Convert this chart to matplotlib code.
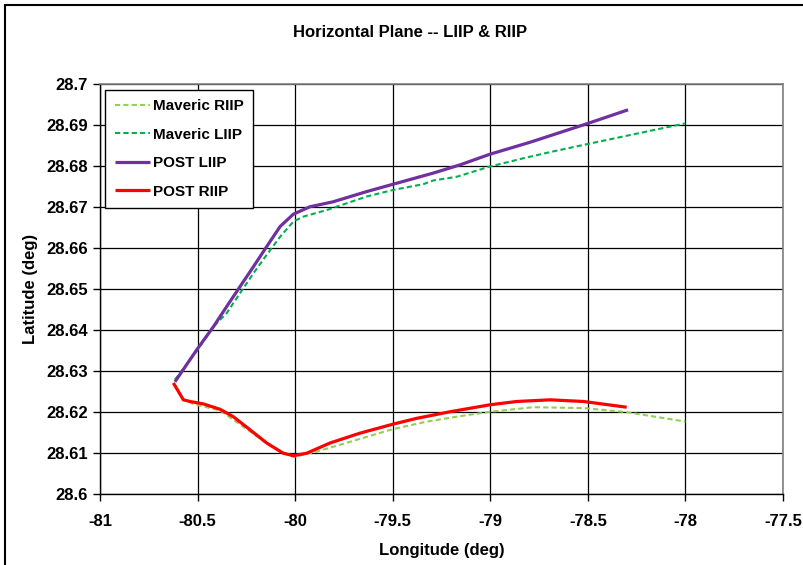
import matplotlib
matplotlib.use("Agg")
import matplotlib.pyplot as plt
from matplotlib.patches import Rectangle

plt.rcParams['font.family'] = ['Liberation Sans', 'DejaVu Sans']
plt.rcParams['font.weight'] = 'bold'

# Trajectory samples (longitude, latitude in degrees)
mav_riip_lon = [-80.624, -80.573, -80.522, -80.385, -80.231, -80.128, -80.009, -79.889,
                -79.718, -79.497, -79.325, -79.172, -79.001, -78.780, -78.523, -78.301, -78.0]
mav_riip_lat = [28.6271, 28.6232, 28.6220, 28.6204, 28.6153, 28.6118, 28.6091, 28.6104,
                28.6128, 28.6159, 28.6177, 28.6189, 28.6201, 28.6212, 28.6210, 28.6200, 28.6177]

mav_liip_lon = [-80.616, -80.504, -80.419, -80.351, -80.282, -80.214, -80.146, -80.077,
                -80.009, -79.958, -79.838, -79.633, -79.497, -79.343, -79.292, -79.172,
                -79.001, -78.831, -78.694, -78.498, -78.0]
mav_liip_lat = [28.6279, 28.6349, 28.6408, 28.6441, 28.6490, 28.6538, 28.6583, 28.6627,
                28.6664, 28.6676, 28.6692, 28.6725, 28.6741, 28.6755, 28.6764, 28.6773,
                28.6798, 28.6818, 28.6833, 28.6853, 28.6903]

post_liip_lon = [-80.616, -80.504, -80.419, -80.351, -80.282, -80.214, -80.146, -80.077,
                 -80.009, -79.924, -79.806, -79.633, -79.497, -79.292, -79.155, -79.001,
                 -78.796, -78.499, -78.294]
post_liip_lat = [28.6274, 28.6352, 28.6408, 28.6457, 28.6506, 28.6554, 28.6603, 28.6652,
                 28.6682, 28.6700, 28.6712, 28.6737, 28.6755, 28.6782, 28.6802, 28.6828,
                 28.6857, 28.6903, 28.6936]

post_riip_lon = [-80.624, -80.573, -80.539, -80.470, -80.385, -80.317, -80.231, -80.146,
                 -80.061, -80.009, -79.941, -79.821, -79.667, -79.497, -79.377, -79.206,
                 -79.001, -78.864, -78.694, -78.523, -78.301]
post_riip_lat = [28.6271, 28.6230, 28.6226, 28.6220, 28.6207, 28.6189, 28.6157, 28.6125,
                 28.6100, 28.6094, 28.6100, 28.6125, 28.6149, 28.6171, 28.6185, 28.6201,
                 28.6218, 28.6226, 28.6230, 28.6226, 28.6212]

x_ticks = [-81, -80.5, -80, -79.5, -79, -78.5, -78, -77.5]
x_tick_labels = ['-81', '-80.5', '-80', '-79.5', '-79', '-78.5', '-78', '-77.5']
y_ticks = [28.6, 28.61, 28.62, 28.63, 28.64, 28.65, 28.66, 28.67, 28.68, 28.69, 28.7]
y_tick_labels = ['28.6', '28.61', '28.62', '28.63', '28.64', '28.65', '28.66',
                 '28.67', '28.68', '28.69', '28.7']

fig = plt.figure(figsize=(8.04, 5.65), dpi=100)
ax = fig.add_axes([0.1244, 0.1251, 0.8495, 0.7271])

ax.plot(mav_riip_lon, mav_riip_lat, color='#92D050', lw=1.5, dashes=(2.5, 1.5),
        label='Maveric RIIP')
ax.plot(mav_liip_lon, mav_liip_lat, color='#00B050', lw=1.5, dashes=(2.5, 1.5),
        label='Maveric LIIP')
ax.plot(post_liip_lon, post_liip_lat, color='#7030A0', lw=2.3, label='POST LIIP',
        solid_capstyle='butt', solid_joinstyle='round')
ax.plot(post_riip_lon, post_riip_lat, color='#FF0000', lw=2.3, label='POST RIIP',
        solid_capstyle='butt', solid_joinstyle='round')

ax.set_xlim(-81, -77.5)
ax.set_ylim(28.6, 28.7)
ax.set_xticks(x_ticks)
ax.set_xticklabels(x_tick_labels, fontsize=12, fontweight='bold')
ax.set_yticks(y_ticks)
ax.set_yticklabels(y_tick_labels, fontsize=12, fontweight='bold')
ax.tick_params(direction='out', length=5, width=1, color='black')
ax.tick_params(axis='x', pad=9)
ax.tick_params(axis='y', pad=4)
ax.grid(True, color='black', lw=0.9)
ax.set_axisbelow(True)

for side in ['top', 'right']:
    ax.spines[side].set_color('#808080')
    ax.spines[side].set_linewidth(1.2)
for side in ['left', 'bottom']:
    ax.spines[side].set_color('black')
    ax.spines[side].set_linewidth(1.0)

ax.set_xlabel('Longitude (deg)', fontsize=12, fontweight='bold', labelpad=10)
ax.set_ylabel('Latitude (deg)', fontsize=12, fontweight='bold', labelpad=6)

fig.text(0.51, 0.942, 'Horizontal Plane -- LIIP & RIIP', ha='center', va='center',
         fontsize=12, fontweight='bold')

leg = ax.legend(loc='upper left', bbox_to_anchor=(0.008, 0.984), borderaxespad=0,
                fancybox=False, edgecolor='black', framealpha=1,
                prop={'weight': 'bold', 'size': 11}, handlelength=2.3,
                handletextpad=0.2, labelspacing=0.95, borderpad=0.6)
leg.get_frame().set_linewidth(1.0)

# outer chart frame
fig.patches.append(Rectangle((5 / 804, -0.05), 1.1, 1 - 5 / 565 + 0.05,
                             transform=fig.transFigure, fill=False,
                             edgecolor='black', lw=1.5))

fig.savefig('out.png', dpi=100)
